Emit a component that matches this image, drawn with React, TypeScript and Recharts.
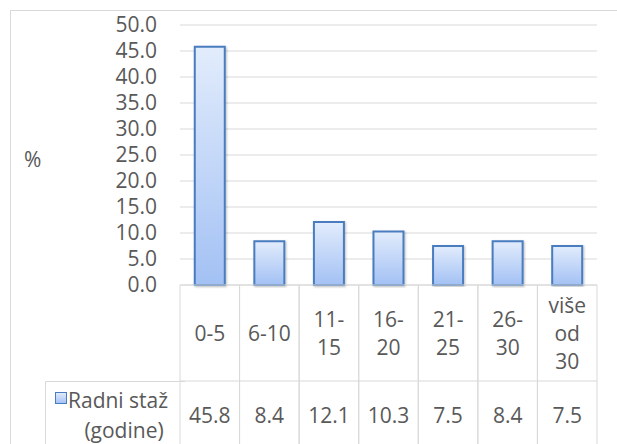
import React from 'react';
import { BarChart, Bar, XAxis, YAxis, CartesianGrid, Legend } from 'recharts';

const categories = ['0-5', '6-10', '11-15', '16-20', '21-25', '26-30', 'više od 30'];
const categoryLines = [['0-5'], ['6-10'], ['11-', '15'], ['16-', '20'], ['21-', '25'], ['26-', '30'], ['više', 'od', '30']];
const values = [45.8, 8.4, 12.1, 10.3, 7.5, 8.4, 7.5];
const yTicks = [0, 5, 10, 15, 20, 25, 30, 35, 40, 45, 50];
const seriesName = 'Radni staž (godine)';
const legendLines = ['Radni staž', '(godine)'];
const yLabel = '%';

const data = categories.map((c, i) => ({ name: c, value: values[i] }));

const W = 617;
const H = 444;
const PLOT_LEFT = 180;
const PLOT_RIGHT = 597;
const PLOT_TOP = 25;
const PLOT_BOTTOM = 285;
const ROW1 = 96; // category row height
const CELL_W = (PLOT_RIGHT - PLOT_LEFT) / categories.length;
const TEXT = '#595959';
const LINE = '#d9d9d9';
const FONT = '"Open Sans", sans-serif';
const FS = 21;
const LH = 28;

const XTick = (props: any) => {
  const { x, y, payload, index } = props;
  const lines: string[] = categoryLines[index] || [String(payload.value)];
  const left = x - CELL_W / 2;
  const right = x + CELL_W / 2;
  const mid1 = y + 48;
  const startY = mid1 - ((lines.length - 1) * LH) / 2;
  const val = values[index];
  return (
    <g>
      <line x1={left} y1={y} x2={right} y2={y} stroke={LINE} strokeWidth={1} />
      <line x1={left} y1={y + ROW1} x2={right} y2={y + ROW1} stroke={LINE} strokeWidth={1} />
      <line x1={left} y1={y} x2={left} y2={y + 200} stroke={LINE} strokeWidth={1} />
      <line x1={right} y1={y} x2={right} y2={y + 200} stroke={LINE} strokeWidth={1} />
      {lines.map((t, i) => (
        <text key={i} x={x} y={startY + i * LH} textAnchor="middle" dominantBaseline="central" fill={TEXT} fontSize={FS} fontFamily={FONT}>
          {t}
        </text>
      ))}
      <text x={x} y={y + 130} textAnchor="middle" dominantBaseline="central" fill={TEXT} fontSize={FS} fontFamily={FONT}>
        {val.toFixed(1)}
      </text>
    </g>
  );
};

const LegendContent = () => (
  <svg width={140} height={80} style={{ display: 'block', overflow: 'visible' }}>
    <defs>
      <linearGradient id="legGrad" x1="0" y1="0" x2="0" y2="1">
        <stop offset="0%" stopColor="#e2ecfc" />
        <stop offset="100%" stopColor="#a3c1f4" />
      </linearGradient>
    </defs>
    <line x1={0.5} y1={0.5} x2={140} y2={0.5} stroke={LINE} strokeWidth={1} />
    <line x1={0.5} y1={0.5} x2={0.5} y2={80} stroke={LINE} strokeWidth={1} />
    <rect x={10.5} y={11.5} width={11} height={11} fill="url(#legGrad)" stroke="#4a7dc0" strokeWidth={1} />
    <text x={23} y={19} textAnchor="start" dominantBaseline="central" fill={TEXT} fontSize={FS} fontFamily={FONT}>
      {legendLines[0]}
    </text>
    <text x={79} y={49} textAnchor="middle" dominantBaseline="central" fill={TEXT} fontSize={FS} fontFamily={FONT}>
      {legendLines[1]}
    </text>
  </svg>
);

export default function App() {
  return (
    <div style={{ position: 'absolute', left: 0, top: 0, width: W, height: H, overflow: 'hidden', background: '#fff' }}>
      <div style={{ position: 'absolute', left: 10, top: 10, width: 700, height: 600, border: `1px solid ${LINE}`, boxSizing: 'border-box' }} />
      <div style={{ position: 'absolute', left: 0, top: 0 }}>
        <BarChart
          width={W}
          height={H}
          data={data}
          margin={{ top: PLOT_TOP, right: W - PLOT_RIGHT, bottom: 0, left: 10 }}
          barCategoryGap="24.8%"
        >
          <defs>
            <linearGradient id="barGrad" x1="0" y1="0" x2="0" y2="1">
              <stop offset="0%" stopColor="#e2ecfc" />
              <stop offset="100%" stopColor="#a3c1f4" />
            </linearGradient>
            <filter id="shadow" x="-20%" y="-5%" width="140%" height="110%">
              <feDropShadow dx="1" dy="1" stdDeviation="1.2" floodColor="#000" floodOpacity="0.25" />
            </filter>
          </defs>
          <CartesianGrid vertical={false} stroke={LINE} strokeWidth={1} />
          <XAxis
            dataKey="name"
            height={H - PLOT_BOTTOM}
            axisLine={false}
            tickLine={false}
            tickSize={0}
            tickMargin={0}
            interval={0}
            tick={<XTick />}
          />
          <YAxis
            width={PLOT_LEFT - 10}
            domain={[0, 50]}
            ticks={yTicks}
            interval={0}
            axisLine={false}
            tickLine={false}
            tickSize={0}
            tickMargin={23}
            tickFormatter={(v: number) => v.toFixed(1)}
            tick={{ fill: TEXT, fontSize: FS, fontFamily: FONT }}
            label={{ value: yLabel, position: 'insideLeft', offset: 14, fill: TEXT, fontSize: FS, fontFamily: FONT, dy: 5 }}
          />
          <Legend
            layout="vertical"
            align="center"
            verticalAlign="middle"
            content={<LegendContent />}
            wrapperStyle={{ left: 45, top: PLOT_BOTTOM + ROW1, width: 140, height: 80 }}
          />
          <Bar
            dataKey="value"
            name={seriesName}
            fill="url(#barGrad)"
            stroke="#4a7dc0"
            strokeWidth={2}
            filter="url(#shadow)"
            isAnimationActive={false}
          />
        </BarChart>
      </div>
    </div>
  );
}
